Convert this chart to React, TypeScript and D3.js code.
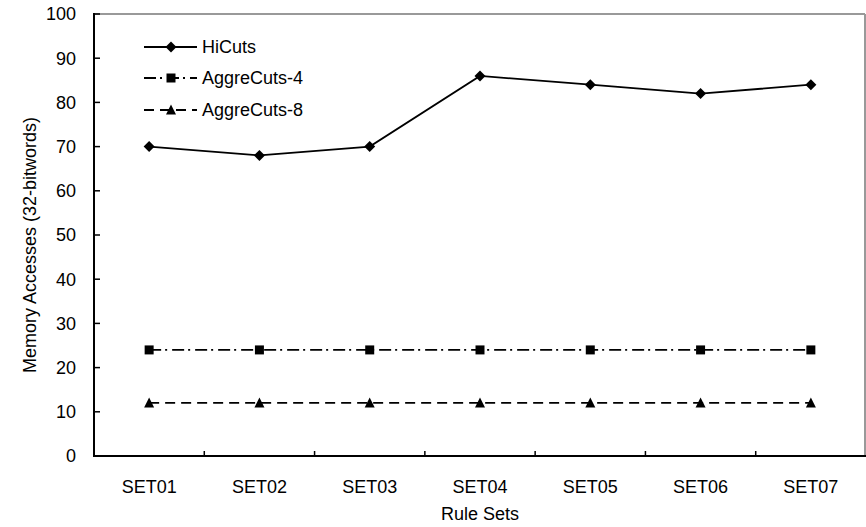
import React from "react";
import * as d3 from "d3";

const categories = ["SET01", "SET02", "SET03", "SET04", "SET05", "SET06", "SET07"];
const hiCuts = [70, 68, 70, 86, 84, 82, 84];
const aggreCuts4 = [24, 24, 24, 24, 24, 24, 24];
const aggreCuts8 = [12, 12, 12, 12, 12, 12, 12];
const yTicks = [0, 10, 20, 30, 40, 50, 60, 70, 80, 90, 100];

const W = 866;
const H = 527;
const M = { left: 94, right: 866, top: 14, bottom: 456 };
const FONT = "'Liberation Sans', Arial, sans-serif";

type Series = {
  name: string;
  values: number[];
  dash: string | null;
  marker: "diamond" | "square" | "triangle";
};

const series: Series[] = [
  { name: "HiCuts", values: hiCuts, dash: null, marker: "diamond" },
  { name: "AggreCuts-4", values: aggreCuts4, dash: "12 4 2 5", marker: "square" },
  { name: "AggreCuts-8", values: aggreCuts8, dash: "10 6", marker: "triangle" },
];

function markerPath(kind: Series["marker"]): string {
  if (kind === "diamond") return "M0,-5.5L5.5,0L0,5.5L-5.5,0Z";
  if (kind === "square") return "M-4.5,-4.5H4.5V4.5H-4.5Z";
  return "M0,-5.5L5,4.5H-5Z";
}

export default function App() {
  const x = d3.scaleBand<string>().domain(categories).range([M.left, M.right]);
  const y = d3.scaleLinear().domain([0, 100]).range([M.bottom, M.top]);
  const cx = (c: string) => (x(c) ?? 0) + x.bandwidth() / 2;

  const line = d3
    .line<number>()
    .x((_, i) => cx(categories[i]))
    .y((d) => y(d));

  const legendX = 144;
  const legendY = [47, 78, 110];

  return (
    <svg
      width={W}
      height={H}
      style={{ position: "absolute", left: 0, top: 0, background: "#fff" }}
      fontFamily={FONT}
    >
      <rect width={W} height={H} fill="#fff" />
      {/* plot frame: gray top and right edges */}
      <line x1={M.left} x2={M.right - 1} y1={M.top} y2={M.top} stroke="#999" strokeWidth={2} />
      <line x1={M.right - 1} x2={M.right - 1} y1={M.top} y2={M.bottom} stroke="#999" strokeWidth={2} />

      {/* y axis */}
      <line x1={M.left} x2={M.left} y1={M.top - 1} y2={M.bottom + 1} stroke="#000" strokeWidth={2} />
      {yTicks.map((t) => (
        <g key={t}>
          <line x1={M.left} x2={M.left + 6} y1={y(t)} y2={y(t)} stroke="#000" strokeWidth={1.5} />
          <text x={76} y={y(t)} dy="0.35em" textAnchor="end" fontSize={18} fill="#000">
            {t}
          </text>
        </g>
      ))}

      {/* x axis */}
      <line x1={M.left - 1} x2={M.right} y1={M.bottom} y2={M.bottom} stroke="#000" strokeWidth={2} />
      {categories.slice(1).map((c) => (
        <line
          key={c}
          x1={x(c)}
          x2={x(c)}
          y1={M.bottom}
          y2={M.bottom - 5}
          stroke="#000"
          strokeWidth={1.5}
        />
      ))}
      {categories.map((c) => (
        <text key={c} x={cx(c)} y={493} textAnchor="middle" fontSize={18} fill="#000">
          {c}
        </text>
      ))}

      {/* axis titles */}
      <text x={480} y={520} textAnchor="middle" fontSize={18} fill="#000">
        Rule Sets
      </text>
      <text
        transform={`translate(36,${(M.top + M.bottom) / 2 + 10}) rotate(-90)`}
        textAnchor="middle"
        fontSize={18}
        fill="#000"
      >
        Memory Accesses (32-bitwords)
      </text>

      {/* series */}
      {series.map((s) => (
        <g key={s.name}>
          <path
            d={line(s.values) ?? ""}
            fill="none"
            stroke="#000"
            strokeWidth={1.8}
            strokeDasharray={s.dash ?? undefined}
          />
          {s.values.map((v, i) => (
            <path
              key={i}
              d={markerPath(s.marker)}
              transform={`translate(${cx(categories[i])},${y(v)})`}
              fill="#000"
            />
          ))}
        </g>
      ))}

      {/* legend */}
      {series.map((s, i) => (
        <g key={s.name} transform={`translate(${legendX},${legendY[i]})`}>
          <line
            x1={0}
            x2={53}
            y1={0}
            y2={0}
            stroke="#000"
            strokeWidth={1.8}
            strokeDasharray={s.dash ?? undefined}
          />
          <path d={markerPath(s.marker)} transform="translate(27,0)" fill="#000" />
          <text x={58} y={0} dy="0.35em" fontSize={18} fill="#000">
            {s.name}
          </text>
        </g>
      ))}
    </svg>
  );
}
